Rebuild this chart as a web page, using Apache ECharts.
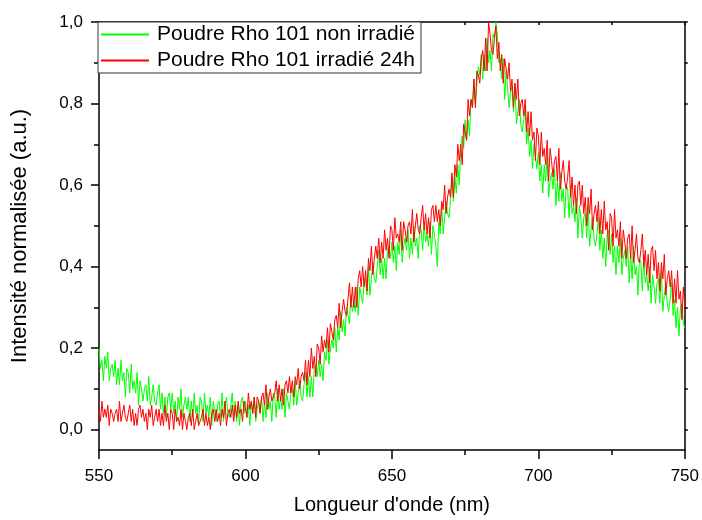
<!DOCTYPE html>
<html>
<head>
<meta charset="utf-8">
<script src="https://cdn.jsdelivr.net/npm/echarts@6/dist/echarts.min.js"></script>
<style>html,body{margin:0;padding:0;background:#fff;}#c{width:702px;height:520px;}</style>
</head>
<body>
<div id="c"></div>
<script>
// Wavelength sampling (nm): start and step of the spectra
const waveStart = 550;
const waveStep = 0.5;

// Series names
const seriesNames = ['Poudre Rho 101 non irradié', 'Poudre Rho 101 irradié 24h'];

// Axis tick values
const yTickLabels = [0, 0.2, 0.4, 0.6, 0.8, 1.0];
const yMinorTicks = [0.1, 0.3, 0.5, 0.7, 0.9];

// Normalised intensity, non irradiated powder (550 -> 750 nm, 0.5 nm steps)
const greenValues = [
0.20,0.15,0.17,0.12,0.18,0.15,0.19,0.12,0.15,0.16,
0.13,0.17,0.11,0.15,0.11,0.17,0.12,0.14,0.08,0.15,
0.14,0.09,0.16,0.10,0.12,0.09,0.14,0.06,0.12,0.10,
0.07,0.10,0.11,0.07,0.13,0.06,0.08,0.11,0.07,0.06,
0.09,0.11,0.05,0.09,0.04,0.08,0.03,0.08,0.09,0.05,
0.09,0.04,0.07,0.02,0.08,0.05,0.10,0.03,0.06,0.08,
0.05,0.08,0.02,0.07,0.03,0.09,0.04,0.06,0.01,0.08,
0.07,0.02,0.09,0.04,0.06,0.03,0.08,0.01,0.07,0.05,
0.02,0.06,0.07,0.03,0.09,0.02,0.05,0.08,0.04,0.03,
0.06,0.09,0.03,0.07,0.02,0.06,0.01,0.07,0.08,0.04,
0.07,0.03,0.06,0.01,0.07,0.04,0.08,0.02,0.05,0.07,
0.04,0.08,0.02,0.07,0.03,0.09,0.05,0.07,0.02,0.09,
0.08,0.03,0.10,0.05,0.08,0.05,0.10,0.03,0.09,0.07,
0.05,0.09,0.10,0.06,0.12,0.06,0.09,0.12,0.08,0.07,
0.11,0.14,0.08,0.13,0.08,0.13,0.08,0.15,0.16,0.13,
0.17,0.13,0.16,0.12,0.19,0.17,0.22,0.16,0.20,0.22,
0.20,0.25,0.19,0.25,0.22,0.29,0.24,0.27,0.23,0.30,
0.30,0.26,0.33,0.29,0.31,0.29,0.35,0.28,0.35,0.33,
0.31,0.36,0.37,0.33,0.40,0.33,0.37,0.41,0.37,0.36,
0.40,0.44,0.38,0.42,0.37,0.42,0.37,0.44,0.45,0.42,
0.46,0.41,0.45,0.39,0.46,0.43,0.49,0.41,0.45,0.47,
0.44,0.49,0.42,0.47,0.43,0.50,0.45,0.47,0.42,0.50,
0.49,0.44,0.51,0.46,0.48,0.45,0.51,0.43,0.50,0.48,
0.45,0.40,0.51,0.48,0.55,0.48,0.52,0.56,0.53,0.52,
0.56,0.62,0.56,0.62,0.58,0.65,0.60,0.69,0.72,0.69,
0.76,0.71,0.76,0.72,0.81,0.79,0.86,0.80,0.85,0.89,
0.87,0.92,0.86,0.92,0.88,0.96,0.90,0.93,0.88,0.97,
0.96,1.00,0.97,0.90,0.91,0.86,0.91,0.81,0.88,0.84,
0.79,0.83,0.84,0.78,0.85,0.75,0.78,0.81,0.75,0.73,
0.76,0.79,0.70,0.74,0.67,0.71,0.64,0.70,0.70,0.64,
0.68,0.61,0.65,0.58,0.65,0.61,0.67,0.57,0.61,0.63,
0.59,0.64,0.55,0.61,0.56,0.63,0.56,0.59,0.52,0.60,
0.59,0.52,0.60,0.53,0.55,0.51,0.57,0.47,0.55,0.52,
0.47,0.52,0.53,0.47,0.55,0.45,0.49,0.52,0.47,0.45,
0.48,0.52,0.44,0.49,0.42,0.47,0.40,0.48,0.49,0.43,
0.48,0.41,0.45,0.38,0.45,0.41,0.47,0.38,0.42,0.44,
0.40,0.45,0.36,0.43,0.37,0.45,0.38,0.40,0.33,0.42,
0.41,0.34,0.43,0.36,0.38,0.34,0.40,0.31,0.38,0.35,
0.31,0.36,0.37,0.31,0.39,0.29,0.33,0.36,0.31,0.29,
0.32,0.36,0.28,0.32,0.25,0.30,0.23,0.30,0.31,0.26,
0.25
];

// Normalised intensity, powder irradiated 24h (550 -> 750 nm, 0.5 nm steps)
const redValues = [
0.05,0.02,0.07,0.03,0.05,0.03,0.06,0.01,0.05,0.04,
0.02,0.04,0.05,0.02,0.07,0.02,0.04,0.06,0.03,0.02,
0.04,0.06,0.02,0.05,0.01,0.04,0.01,0.05,0.06,0.03,
0.05,0.02,0.04,0.00,0.05,0.03,0.06,0.01,0.03,0.05,
0.02,0.05,0.01,0.04,0.01,0.06,0.02,0.04,0.00,0.05,
0.04,0.00,0.05,0.02,0.03,0.01,0.05,0.00,0.04,0.02,
0.00,0.03,0.04,0.01,0.05,0.00,0.02,0.04,0.01,0.01,
0.03,0.05,0.01,0.04,0.01,0.03,0.00,0.04,0.05,0.02,
0.05,0.02,0.04,0.01,0.05,0.03,0.07,0.01,0.04,0.05,
0.03,0.06,0.02,0.06,0.03,0.07,0.04,0.05,0.02,0.07,
0.07,0.03,0.09,0.05,0.07,0.04,0.08,0.03,0.08,0.07,
0.04,0.08,0.09,0.06,0.11,0.05,0.08,0.10,0.07,0.07,
0.09,0.12,0.07,0.11,0.07,0.10,0.06,0.11,0.12,0.09,
0.13,0.09,0.12,0.08,0.13,0.11,0.15,0.10,0.13,0.14,
0.12,0.17,0.11,0.17,0.13,0.20,0.15,0.18,0.13,0.21,
0.20,0.16,0.23,0.19,0.22,0.20,0.25,0.19,0.26,0.24,
0.22,0.27,0.28,0.25,0.31,0.25,0.29,0.32,0.29,0.28,
0.32,0.36,0.30,0.35,0.30,0.35,0.30,0.37,0.39,0.35,
0.40,0.35,0.39,0.34,0.42,0.39,0.45,0.38,0.42,0.45,
0.42,0.47,0.41,0.46,0.42,0.49,0.44,0.47,0.42,0.50,
0.49,0.44,0.52,0.47,0.48,0.46,0.51,0.44,0.51,0.49,
0.46,0.50,0.51,0.48,0.54,0.46,0.50,0.53,0.49,0.48,
0.52,0.55,0.49,0.53,0.48,0.52,0.47,0.54,0.55,0.51,
0.55,0.51,0.54,0.50,0.56,0.54,0.60,0.53,0.57,0.59,
0.57,0.63,0.57,0.65,0.62,0.70,0.66,0.70,0.65,0.75,
0.75,0.71,0.81,0.77,0.81,0.79,0.86,0.79,0.88,0.87,
0.85,0.91,0.93,0.88,0.96,0.88,1.00,0.97,0.93,0.92,
0.96,0.99,0.91,0.95,0.88,0.92,0.85,0.91,0.91,0.86,
0.90,0.83,0.86,0.79,0.85,0.81,0.86,0.77,0.80,0.81,
0.77,0.81,0.73,0.78,0.72,0.78,0.71,0.73,0.66,0.74,
0.72,0.65,0.73,0.67,0.69,0.65,0.71,0.61,0.69,0.66,
0.62,0.66,0.67,0.61,0.69,0.59,0.63,0.66,0.61,0.59,
0.62,0.66,0.57,0.62,0.55,0.60,0.53,0.60,0.61,0.55,
0.60,0.53,0.57,0.50,0.57,0.53,0.59,0.49,0.53,0.55,
0.51,0.56,0.48,0.54,0.48,0.56,0.49,0.51,0.44,0.53,
0.52,0.45,0.54,0.47,0.49,0.45,0.51,0.42,0.49,0.46,
0.42,0.47,0.48,0.42,0.50,0.41,0.44,0.48,0.42,0.41,
0.44,0.48,0.40,0.44,0.38,0.43,0.36,0.44,0.45,0.39,
0.44,0.37,0.41,0.34,0.41,0.37,0.43,0.33,0.37,0.39,
0.35,0.39,0.31,0.37,0.31,0.39,0.32,0.34,0.27,0.35,
0.30
];

const pairs = vals => vals.map((v, i) => [waveStart + i * waveStep, v]);
const FONT = 'Liberation Sans';
const fmt = v => v.toFixed(1).replace('.', ',');

const chart = echarts.init(document.getElementById('c'), null, {renderer: 'canvas'});
chart.setOption({
  animation: false,
  backgroundColor: '#fff',
  textStyle: {fontFamily: FONT},
  grid: {left: 99, right: 16, top: 22, bottom: 67, containLabel: false},
  legend: {
    left: 98, top: 22, orient: 'vertical',
    backgroundColor: '#fff', borderColor: '#333', borderWidth: 1,
    padding: [2, 6, 2, 3], itemGap: 5, itemWidth: 48, itemHeight: 2,
    icon: 'rect',
    textStyle: {fontFamily: FONT, fontSize: 21, color: '#000', padding: [0, 0, 0, 3]},
    data: [{name: seriesNames[0]}, {name: seriesNames[1]}]
  },
  xAxis: [{
    type: 'value', min: 550, max: 750, interval: 50, position: 'bottom',
    axisLine: {show: true, onZero: false, lineStyle: {color: '#000', width: 1.5}},
    axisTick: {show: true, inside: false, length: 9, lineStyle: {color: '#000', width: 1.5}},
    minorTick: {show: true, splitNumber: 2, length: 5, lineStyle: {color: '#000', width: 1.5}},
    axisLabel: {fontFamily: FONT, fontSize: 17, color: '#000', margin: 18, formatter: v => String(v)},
    splitLine: {show: false},
    name: 'Longueur d\'onde (nm)', nameLocation: 'middle', nameGap: 45,
    nameTextStyle: {fontFamily: FONT, fontSize: 20, color: '#000'}
  }, {
    type: 'value', min: 550, max: 750, interval: 25, position: 'top',
    axisLine: {show: true, onZero: false, lineStyle: {color: '#000', width: 1.5}},
    axisTick: {show: true, inside: true, length: 3, lineStyle: {color: '#000', width: 1.5}},
    axisLabel: {show: false}, splitLine: {show: false}
  }],
  yAxis: [{
    type: 'value', min: -0.05, max: 1.0, position: 'left',
    axisLine: {show: true, onZero: false, lineStyle: {color: '#000', width: 1.5}},
    axisTick: {show: true, inside: false, length: 8, customValues: yTickLabels, lineStyle: {color: '#000', width: 1.5}},
    axisLabel: {fontFamily: FONT, fontSize: 17, color: '#000', margin: 16, customValues: yTickLabels, formatter: v => fmt(v)},
    splitLine: {show: false},
    name: 'Intensité normalisée (a.u.)', nameLocation: 'middle', nameGap: 68,
    nameTextStyle: {fontFamily: FONT, fontSize: 22, color: '#000'}
  }, {
    type: 'value', min: -0.05, max: 1.0, position: 'right',
    axisLine: {show: true, onZero: false, lineStyle: {color: '#000', width: 1.5}},
    axisTick: {show: true, inside: false, length: 3, customValues: yTickLabels.concat(yMinorTicks), lineStyle: {color: '#000', width: 1.5}},
    axisLabel: {show: false, customValues: yTickLabels}, splitLine: {show: false}
  }, {
    type: 'value', min: -0.05, max: 1.0, position: 'left',
    axisLine: {show: false},
    axisTick: {show: true, inside: false, length: 5, customValues: yMinorTicks, lineStyle: {color: '#000', width: 1.5}},
    axisLabel: {show: false, customValues: yMinorTicks}, splitLine: {show: false}
  }],
  series: [{
    name: seriesNames[0], type: 'line', xAxisIndex: 0, yAxisIndex: 0,
    data: pairs(greenValues), showSymbol: false, symbol: 'none',
    lineStyle: {color: '#00ff00', width: 1}, itemStyle: {color: '#00ff00'}, z: 2
  }, {
    name: seriesNames[1], type: 'line', xAxisIndex: 0, yAxisIndex: 0,
    data: pairs(redValues), showSymbol: false, symbol: 'none',
    lineStyle: {color: '#ff0000', width: 1}, itemStyle: {color: '#ff0000'}, z: 3
  }]
});
</script>
</body>
</html>
